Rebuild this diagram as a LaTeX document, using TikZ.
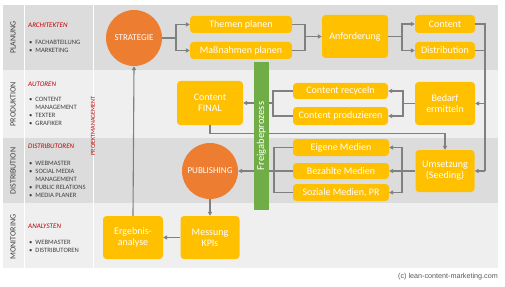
\documentclass[tikz,border=0pt]{standalone}
\usepackage{fontspec}
\setmainfont{Carlito}
\newfontfamily\copyfont{Liberation Sans}
\usetikzlibrary{arrows.meta,calc}
\definecolor{bandA}{HTML}{DCDCDC}
\definecolor{bandB}{HTML}{EFEFEF}
\definecolor{gold}{HTML}{FFC000}
\definecolor{orng}{HTML}{ED7D31}
\definecolor{grn}{HTML}{70AD47}
\definecolor{conncol}{HTML}{808080}
\definecolor{rolered}{HTML}{C00000}
\definecolor{lblcol}{HTML}{404040}
\definecolor{copycol}{HTML}{595959}
\begin{document}
\begin{tikzpicture}[x=1pt,y=-1pt,
  box/.style={fill=gold, rounded corners=3.5pt, text=white, font=\fontsize{10}{11}\selectfont, align=center, inner sep=0pt},
  sz/.style 2 args={minimum width=#1, minimum height=#2},
  circ/.style={circle, fill=orng, text=white, font=\fontsize{9}{10}\selectfont, inner sep=0pt, minimum size=56pt},
  conn/.style={draw=conncol, line width=1.1pt},
  arr/.style={conn, -{Triangle[length=4pt,width=4.2pt]}},
  bandlbl/.style={rotate=90, text=lblcol, font=\fontsize{8}{9}\selectfont, inner sep=0pt},
  rolehead/.style={anchor=west, text=rolered, font=\fontsize{7}{8}\selectfont\itshape, inner sep=0pt},
  roles/.style={anchor=north west, text=lblcol, font=\fontsize{6.6}{8}\selectfont, inner sep=0pt, align=left},
]
\useasboundingbox (0,0) rectangle (505,286);
% bands
\fill[bandA] (3,5) rectangle (498,70);
\fill[bandB] (3,70) rectangle (498,138);
\fill[bandA] (3,138) rectangle (498,203);
\fill[bandB] (3,203) rectangle (498,268);
\draw[white, line width=0.8pt] (24,5) -- (24,268);
\draw[white, line width=0.8pt] (93,5) -- (93,268);

% band labels
\node[bandlbl] (lplan) at (13,37.5) {PLANUNG};
\node[bandlbl] (lprod) at (13,104) {PRODUKTION};
\node[bandlbl] (ldist) at (13,171) {DISTRIBUTION};
\node[bandlbl] (lmon) at (13,237) {MONITORING};

% roles
\node[rolehead] (hplan) at (28,25) {ARCHITEKTEN};
\node[roles] (rplan) at (29,38.4) {\begin{tabular}{@{}l@{\hspace{3pt}}l@{}}•&FACHABTEILUNG\\•&MARKETING\end{tabular}};
\node[rolehead] (hprod) at (28,84) {AUTOREN};
\node[roles] (rprod) at (29,95.8) {\begin{tabular}{@{}l@{\hspace{3pt}}l@{}}•&CONTENT\\&MANAGEMENT\\•&TEXTER\\•&GRAFIKER\end{tabular}};
\node[rolehead] (hdist) at (28,146) {DISTRIBUTOREN};
\node[roles] (rdist) at (29,159.4) {\begin{tabular}{@{}l@{\hspace{3pt}}l@{}}•&WEBMASTER\\•&SOCIAL MEDIA\\&MANAGEMENT\\•&PUBLIC RELATIONS\\•&MEDIA PLANER\end{tabular}};
\node[rolehead] (hmon) at (28,226) {ANALYSTEN};
\node[roles] (rmon) at (29,238.4) {\begin{tabular}{@{}l@{\hspace{3pt}}l@{}}•&WEBMASTER\\•&DISTRIBUTOREN\end{tabular}};
\node[rotate=90, text=rolered, font=\fontsize{6}{7}\selectfont, inner sep=0pt] (pm) at (93,126) {PROJEKTMANAGEMENT};

% main nodes
\node[circ] (strat) at (134,38) {STRATEGIE};
\node[box, sz={102}{17}] (themen) at (241,24.5) {Themen planen};
\node[box, sz={102}{17}] (massn) at (241,50.5) {Maßnahmen planen};
\node[box, sz={66}{43}] (anf) at (355,36.5) {Anforderung};
\node[box, sz={60}{18}] (content) at (445,24) {Content};
\node[box, sz={60}{17}] (distr) at (445,50.5) {Distribution};
\node[box, sz={60}{43}] (bedarf) at (445,103.5) {Bedarf\\ermitteln};
\node[box, sz={95}{16}] (recyc) at (340.5,91) {Content recyceln};
\node[box, sz={95}{18}] (prod) at (340.5,116) {Content produzieren};
\node[box, sz={66}{44}] (final) at (210,103) {Content\\FINAL};
\node[box, sz={96}{17}] (eigene) at (341,147.5) {Eigene Medien};
\node[box, sz={96}{16}] (bezahlt) at (341,171) {Bezahlte Medien};
\node[box, sz={96}{17}] (sozial) at (341,192.5) {Soziale Medien, PR};
\node[box, sz={59}{42}] (umsetz) at (445,171) {Umsetzung\\(Seeding)};
\node[circ] (publ) at (210,171) {PUBLISHING};
\node[box, sz={59}{43}] (messung) at (210,237.5) {Messung\\KPIs};
\node[box, sz={60}{43}] (ergebnis) at (133,237.5) {Ergebnis-\\analyse};

% connectors
\coordinate (j1) at (176,38);
\draw[conn] (strat.east) -- (j1);
\draw[arr] (j1) |- (themen.west);
\draw[arr] (j1) |- (massn.west);

\coordinate (j2) at (305,36.5);
\draw[conn] (themen.east) -| (j2);
\draw[conn] (massn.east) -| (j2);
\draw[arr] (j2) -- (anf.west);

\coordinate (j3) at (402,36.5);
\draw[conn] (anf.east) -- (j3);
\draw[arr] (j3) |- (content.west);
\draw[arr] (j3) |- (distr.west);

\coordinate (bus) at (485,171);
\draw[conn] (content.east) -| (bus);
\draw[conn] (distr.east) -- (distr.east -| bus);
\draw[arr] (bus) -- (umsetz.east);
\draw[arr] (bedarf.east -| bus) -- (bedarf.east);

\coordinate (j4) at (403,103.5);
\draw[conn] (bedarf.west) -- (j4);
\draw[arr] (j4) |- (recyc.east);
\draw[arr] (j4) |- (prod.east);

\coordinate (j5) at (273,103);
\draw[conn] (recyc.west) -| (j5);
\draw[conn] (prod.west) -| (j5);
\draw[arr] (j5) -- (final.east);

\draw[arr] (final.south) -- ++(0,8) -| (umsetz.north);

\coordinate (j6) at (402,171);
\draw[conn] (umsetz.west) -- (j6);
\draw[arr] (j6) |- (eigene.east);
\draw[arr] (j6) -- (bezahlt.east);
\draw[arr] (j6) |- (sozial.east);

\coordinate (j7) at (274,171);
\draw[conn] (eigene.west) -| (j7);
\draw[conn] (sozial.west) -| (j7);
\draw[arr] (bezahlt.west) -- (publ.east);

\draw[arr] (publ.south) -- (messung.north);
\draw[arr] (messung.west) -- (ergebnis.east);
\draw[arr] (ergebnis.north) -- (strat.south);

% approval gate
\node[fill=grn, rotate=90, minimum width=148pt, minimum height=15pt, inner sep=0pt, text=white, font=\fontsize{10.5}{11}\selectfont] (gate) at (261.5,136) {Freigabeprozess};

% copyright
\node[anchor=east, text=copycol, font=\copyfont\fontsize{7.2}{8}\selectfont, inner sep=0pt] (copy) at (498,277) {(c) lean-content-marketing.com};
\end{tikzpicture}
\end{document}
